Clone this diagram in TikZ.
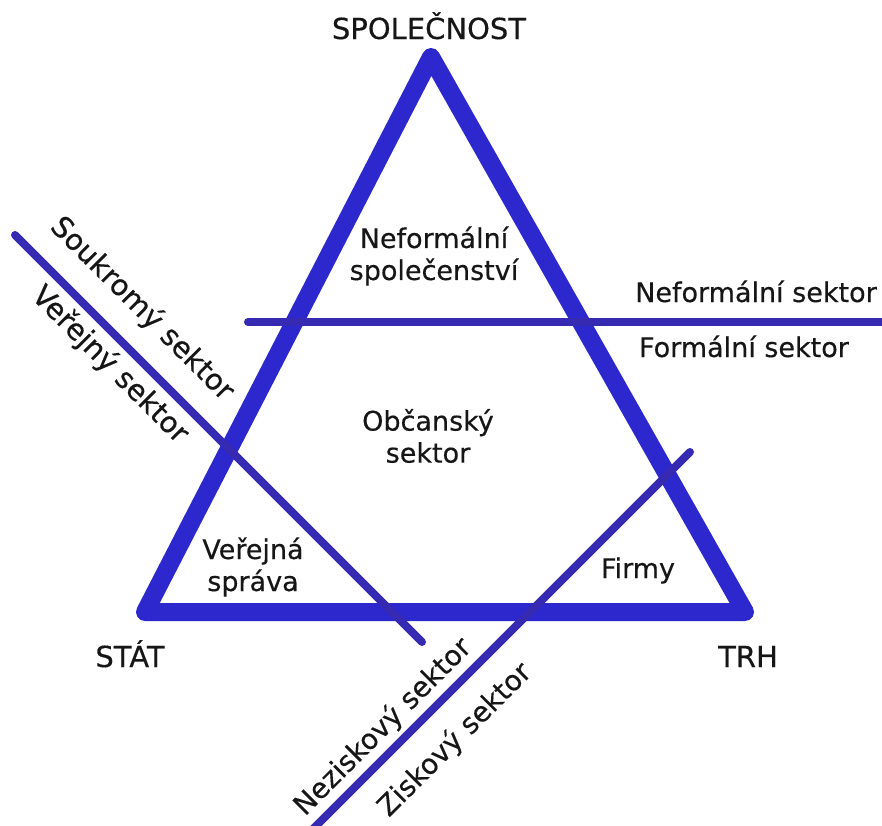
\documentclass[tikz,border=0pt]{standalone}
\usepackage{fontspec}
\setmainfont{DejaVu Sans}[FakeBold=0.35]
\definecolor{triblue}{RGB}{45,40,205}
\definecolor{lineblue}{RGB}{55,42,178}
\definecolor{txt}{RGB}{22,22,22}
\begin{document}
\begin{tikzpicture}[x=1pt,y=-1pt,
  tri/.style={line width=18pt, draw=triblue, line join=round, line cap=round},
  sep/.style={line width=8pt, draw=lineblue, line cap=round},
  lbl/.style={text=txt, font=\fontsize{27}{32}\selectfont, inner sep=0pt, align=center},
  rlbl/.style={text=txt, font=\fontsize{29}{34}\selectfont, inner sep=0pt},
  big/.style={text=txt, font=\fontsize{29}{34}\selectfont, inner sep=0pt}]
\useasboundingbox[fill=white] (0,0) rectangle (882,825);
% triangle
\coordinate (A) at (431,57);
\coordinate (B) at (145,612);
\coordinate (C) at (745,612);
\draw[tri] (A) -- (B) -- (C) -- cycle;
% separating lines
\coordinate (h1) at (248,322);
\coordinate (h2) at (890,322);
\draw[sep] (h1) -- (h2);
\coordinate (d1a) at (15,235);
\coordinate (d1b) at (422,642);
\draw[sep] (d1a) -- (d1b);
\coordinate (d2a) at (690,452);
\coordinate (d2b) at (313,829);
\draw[sep] (d2a) -- (d2b);
% vertex labels
\node[big, anchor=base] (spol) at (429,39) {SPOLEČNOST};
\node[big, anchor=base] (stat) at (130,667) {STÁT};
\node[big, anchor=base] (trh) at (748,667) {TRH};
% inner labels
\node[lbl] (nfs) at (434,256) {Neformální\\společenství};
\node[lbl] (obc) at (428,436) {Občanský\\sektor};
\node[lbl] (vs) at (253,567) {Veřejná\\správa};
\node[lbl, anchor=base] (firmy) at (638,578) {Firmy};
% side labels
\node[lbl, anchor=base] (nfsek) at (756,302) {Neformální sektor};
\node[lbl, anchor=base] (fsek) at (744,357) {Formální sektor};
\node[rlbl, rotate=-45] (souk) at (142,309) {Soukromý sektor};
\node[rlbl, rotate=-45] (verj) at (110,365) {Veřejný sektor};
\node[rlbl, rotate=45, font=\fontsize{28}{33}\selectfont] (nezi) at (383,727) {Neziskový sektor};
\node[rlbl, rotate=45, font=\fontsize{28}{33}\selectfont] (zisk) at (455,740) {Ziskový sektor};
\end{tikzpicture}
\end{document}
